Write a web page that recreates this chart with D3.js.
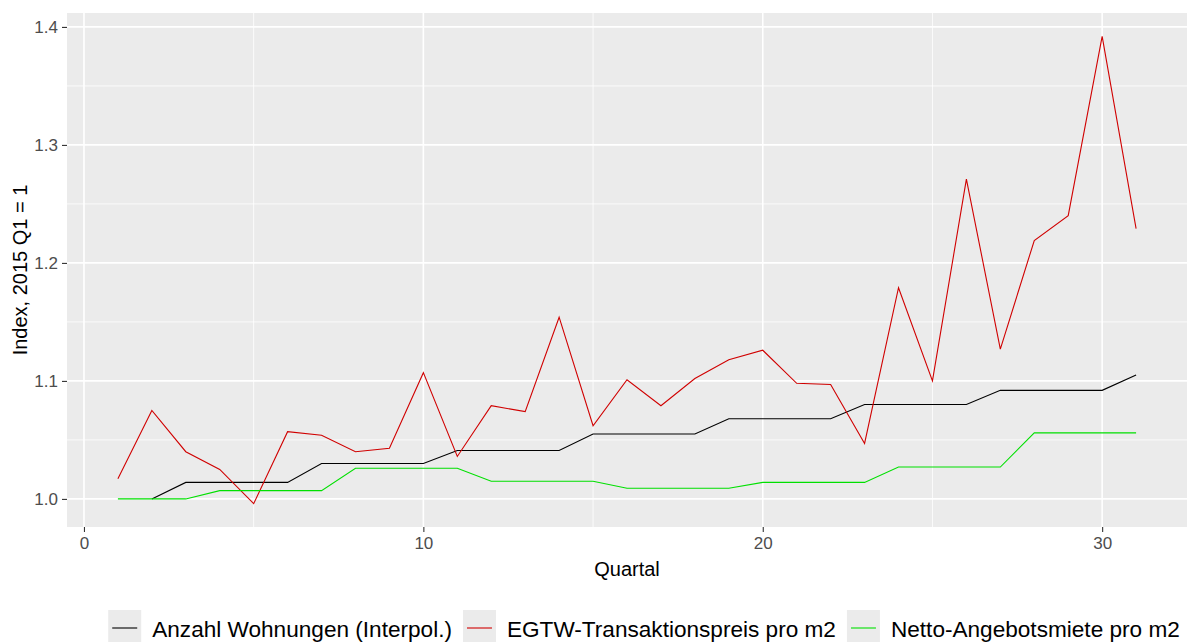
<!DOCTYPE html>
<html>
<head>
<meta charset="utf-8">
<script src="https://d3js.org/d3.v7.min.js"></script>
<style>
  body { margin: 0; background: #fff; }
  text { font-family: "Liberation Sans", Arial, sans-serif; }
</style>
</head>
<body>
<div id="chart"></div>
<script>
// Quarters since 2015 Q1
const quartal = d3.range(1, 32);

// Anzahl Wohnungen (Interpol.) - no value for the first quarter
const anzahl = [null, 1.000, 1.014, 1.014, 1.014, 1.014, 1.030, 1.030, 1.030, 1.030,
    1.041, 1.041, 1.041, 1.041, 1.055, 1.055, 1.055, 1.055, 1.068, 1.068,
    1.068, 1.068, 1.080, 1.080, 1.080, 1.080, 1.092, 1.092, 1.092, 1.092, 1.105];

// EGTW-Transaktionspreis pro m2
const egtw = [1.017, 1.075, 1.040, 1.025, 0.996, 1.057, 1.054, 1.040, 1.043, 1.107,
    1.036, 1.079, 1.074, 1.154, 1.062, 1.101, 1.079, 1.102, 1.118, 1.126,
    1.098, 1.097, 1.047, 1.179, 1.100, 1.271, 1.127, 1.219, 1.240, 1.392, 1.229];

// Netto-Angebotsmiete pro m2
const netto = [1.000, 1.000, 1.000, 1.007, 1.007, 1.007, 1.007, 1.026, 1.026, 1.026,
    1.026, 1.015, 1.015, 1.015, 1.015, 1.009, 1.009, 1.009, 1.009, 1.014,
    1.014, 1.014, 1.014, 1.027, 1.027, 1.027, 1.027, 1.056, 1.056, 1.056, 1.056];

const seriesNames = ["Anzahl Wohnungen (Interpol.)", "EGTW-Transaktionspreis pro m2", "Netto-Angebotsmiete pro m2"];
const seriesColors = ["#000000", "#d00000", "#00e000"];
const seriesValues = [anzahl, egtw, netto];

const xTicks = [0, 10, 20, 30];
const xMinor = [5, 15, 25];
const yTicks = [1.0, 1.1, 1.2, 1.3, 1.4];
const yMinor = [1.05, 1.15, 1.25, 1.35];

const width = 1189, height = 642;
const margin = { top: 13, right: 2, bottom: 115, left: 67 };

const svg = d3.select("#chart").append("svg")
    .attr("width", width)
    .attr("height", height);

// ggplot style 5% expansion
const xr = d3.extent(quartal);
const xpad = (xr[1] - xr[0]) * 0.05;
const x = d3.scaleLinear()
    .domain([xr[0] - xpad, xr[1] + xpad])
    .range([margin.left, width - margin.right]);

const allVals = [].concat(anzahl, egtw, netto).filter(v => v != null);
const yr = d3.extent(allVals);
const ypad = (yr[1] - yr[0]) * 0.05;
const y = d3.scaleLinear()
    .domain([yr[0] - ypad, yr[1] + ypad])
    .range([height - margin.bottom, margin.top]);

// panel background
svg.append("rect")
    .attr("x", margin.left)
    .attr("y", margin.top)
    .attr("width", width - margin.left - margin.right)
    .attr("height", height - margin.top - margin.bottom)
    .attr("fill", "#ebebeb");

// grid lines
const grid = svg.append("g");
grid.selectAll(".ymin").data(yMinor).join("line")
    .attr("x1", margin.left).attr("x2", width - margin.right)
    .attr("y1", d => y(d)).attr("y2", d => y(d))
    .attr("stroke", "#fff").attr("stroke-width", 0.8);
grid.selectAll(".xmin").data(xMinor).join("line")
    .attr("y1", margin.top).attr("y2", height - margin.bottom)
    .attr("x1", d => x(d)).attr("x2", d => x(d))
    .attr("stroke", "#fff").attr("stroke-width", 0.8);
grid.selectAll(".ymaj").data(yTicks).join("line")
    .attr("x1", margin.left).attr("x2", width - margin.right)
    .attr("y1", d => y(d)).attr("y2", d => y(d))
    .attr("stroke", "#fff").attr("stroke-width", 1.6);
grid.selectAll(".xmaj").data(xTicks).join("line")
    .attr("y1", margin.top).attr("y2", height - margin.bottom)
    .attr("x1", d => x(d)).attr("x2", d => x(d))
    .attr("stroke", "#fff").attr("stroke-width", 1.6);

// lines
const line = d3.line()
    .defined(d => d[1] != null)
    .x(d => x(d[0]))
    .y(d => y(d[1]));

seriesValues.forEach((vals, i) => {
    svg.append("path")
        .datum(quartal.map((q, j) => [q, vals[j]]))
        .attr("fill", "none")
        .attr("stroke", seriesColors[i])
        .attr("stroke-width", 1.1)
        .attr("d", line);
});

// axes
const xAxis = svg.append("g")
    .attr("transform", `translate(0,${height - margin.bottom})`)
    .call(d3.axisBottom(x).tickValues(xTicks).tickFormat(d3.format("d")).tickSize(5).tickPadding(5));
const yAxis = svg.append("g")
    .attr("transform", `translate(${margin.left},0)`)
    .call(d3.axisLeft(y).tickValues(yTicks).tickFormat(d3.format(".1f")).tickSize(5).tickPadding(4));

[xAxis, yAxis].forEach(a => {
    a.select(".domain").remove();
    a.selectAll(".tick line").attr("stroke", "#333").attr("stroke-width", 1.1);
    a.selectAll(".tick text").attr("fill", "#4d4d4d")
        .style("font-size", "17px")
        .style("font-family", "'Liberation Sans', Arial, sans-serif");
});

// axis titles
const pcx = (margin.left + width - margin.right) / 2;
svg.append("text")
    .attr("x", pcx)
    .attr("y", 576)
    .attr("text-anchor", "middle")
    .style("font-size", "20px")
    .text("Quartal");

svg.append("text")
    .attr("transform", `translate(27,${(margin.top + height - margin.bottom) / 2}) rotate(-90)`)
    .attr("text-anchor", "middle")
    .style("font-size", "20px")
    .text("Index, 2015 Q1 = 1");

// legend at the bottom
const legend = svg.append("g");
const keyW = 33, keyH = 36, gap = 11;
const items = legend.selectAll("g").data(seriesNames).join("g");
items.append("rect")
    .attr("width", keyW).attr("height", keyH)
    .attr("y", 610)
    .attr("fill", "#ebebeb");
items.append("line")
    .attr("x1", 4).attr("x2", keyW - 4)
    .attr("y1", 628).attr("y2", 628)
    .attr("stroke", (d, i) => seriesColors[i])
    .attr("stroke-width", 1.1);
items.append("text")
    .attr("x", keyW + gap)
    .attr("y", 636.5)
    .style("font-size", "22.6px")
    .text(d => d);

let pos = 0;
const offsets = [];
items.each(function() {
    offsets.push(pos);
    const tw = d3.select(this).select("text").node().getComputedTextLength();
    pos += keyW + gap + tw + gap;
});
const total = pos - gap;
const startX = 644 - total / 2;
items.attr("transform", (d, i) => `translate(${startX + offsets[i]},0)`);
</script>
</body>
</html>
